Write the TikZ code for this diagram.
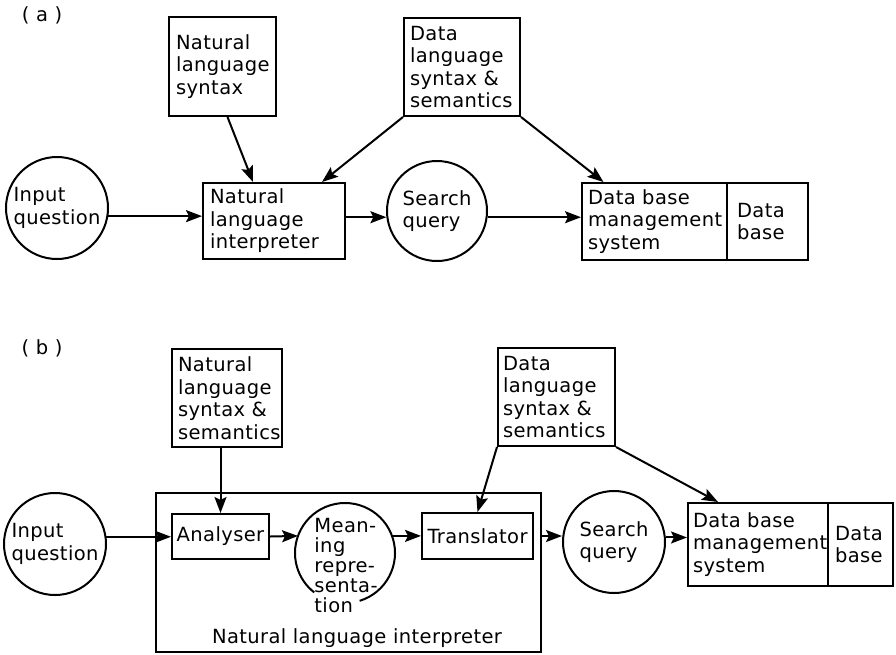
\documentclass[tikz,border=0pt]{standalone}
\usepackage{fontspec}
\usetikzlibrary{arrows.meta}
\newfontfamily\letterfont[LetterSpace=2]{DejaVu Sans}
\newcommand\lettering{\letterfont\fontsize{19.5}{22.5}\selectfont}
\newcommand\tightlettering{\letterfont\fontsize{19.5}{20}\selectfont}

\begin{document}
\begin{tikzpicture}[x=1pt, y=-1pt, line width=2pt,
    blk/.style={draw, rectangle, inner sep=0pt, align=left, font=\lettering},
    rnd/.style={draw, circle, inner sep=0pt, minimum size=102pt, align=left, font=\lettering}]
    \useasboundingbox (0,0) rectangle (896,654);

    % (a) direct interpretation
    \node[font=\lettering] (lbla) at (42,15) {( a )};
    \node[blk, minimum width=107pt, minimum height=99pt, text width=93pt] (nlsa) at (222.5,66.5) {Natural\\language\\syntax};
    \node[blk, minimum width=116pt, minimum height=98pt, text width=104pt] (dlsa) at (462,67) {Data\\language\\syntax \&\\semantics};
    \node[rnd] (inqa) at (57,208) {Input\\question};
    \node[blk, minimum width=142pt, minimum height=76pt, text width=128pt] (nlia) at (274,221) {Natural\\language\\interpreter};
    \node[rnd, minimum size=100pt] (sqa) at (437,211) {Search\\query};
    \node[blk, minimum width=145pt, minimum height=77pt, text width=133pt] (dbmsa) at (654.5,221.5) {Data base\\management\\system};
    \node[blk, minimum width=81pt, minimum height=77pt, text width=61pt] (dba) at (767.5,221.5) {Data\\base};

    % (b) with meaning representation
    \node[font=\lettering] (lblb) at (42,348) {( b )};
    \node[blk, minimum width=110pt, minimum height=98pt, text width=98pt] (nlsb) at (227,398) {Natural\\language\\syntax \&\\semantics};
    \node[blk, minimum width=117pt, minimum height=98pt, text width=107pt] (dlsb) at (556.5,397) {Data\\language\\syntax \&\\semantics};
    \node[rnd] (inqb) at (55,544) {Input\\question};
    \node[draw, rectangle, minimum width=385pt, minimum height=159pt] (nlib) at (348.5,572.5) {};
    \node[font=\lettering] (nlil) at (357,638) {Natural language interpreter};
    \node[blk, minimum width=97pt, minimum height=45pt] (ana) at (220.5,536.5) {Analyser};
    \node[circle, outer sep=0pt, minimum size=100pt] (mr) at (345,553) {};
    \node[font=\tightlettering, align=left] (mrt) at (346,566) {Mean-\\ing\\repre-\\senta-\\tion};
    \node[blk, minimum width=111pt, minimum height=46pt] (tr) at (477.5,536) {Translator};
    \node[rnd] (sqb) at (614,542) {Search\\query};
    \node[blk, minimum width=140pt, minimum height=83pt, text width=130pt] (dbmsb) at (758,544.5) {Data base\\management\\system};
    \node[blk, minimum width=65pt, minimum height=83pt, text width=51pt] (dbb) at (860.5,544.5) {Data\\base};
    \draw (mr.-73) arc[start angle=-73, end angle=232, radius=50pt];

    \begin{scope}[>={Stealth[length=16pt,width=12pt,inset=3pt]},
                  every edge/.style={draw=black, line width=2pt}]
        \path [->] (inqa.-9) edge (nlia.west |- inqa.-9);
        \path [->] ([xshift=5pt]nlsa.south) edge ([xshift=-21pt]nlia.north);
        \path [->] (dlsa.south west) edge ([xshift=48pt]nlia.north);
        \path [->] (dlsa.south east) edge ([xshift=-51pt]dbmsa.north);
        \path [->] (nlia.east |- sqa.187) edge (sqa.187);
        \path [->] (sqa.-7) edge (dbmsa.west |- sqa.-7);
        \path [->] (inqb.8) edge (ana.west |- inqb.8);
        \path [->] (ana.north |- nlsb.south) edge (ana.north);
        \path [->] (ana.east) edge (mr.160);
        \path [->] (mr.20) edge (tr.west |- mr.20);
        \path [->] (dlsb.south west) edge (tr.north);
        \path [->] (dlsb.south east) edge ([xshift=-40pt]dbmsb.north);
        \path [->] (nlib.east |- tr.east) edge (sqb.west |- tr.east);
        \path [->] (sqb.5) edge (dbmsb.west |- sqb.5);
    \end{scope}
\end{tikzpicture}
\end{document}
